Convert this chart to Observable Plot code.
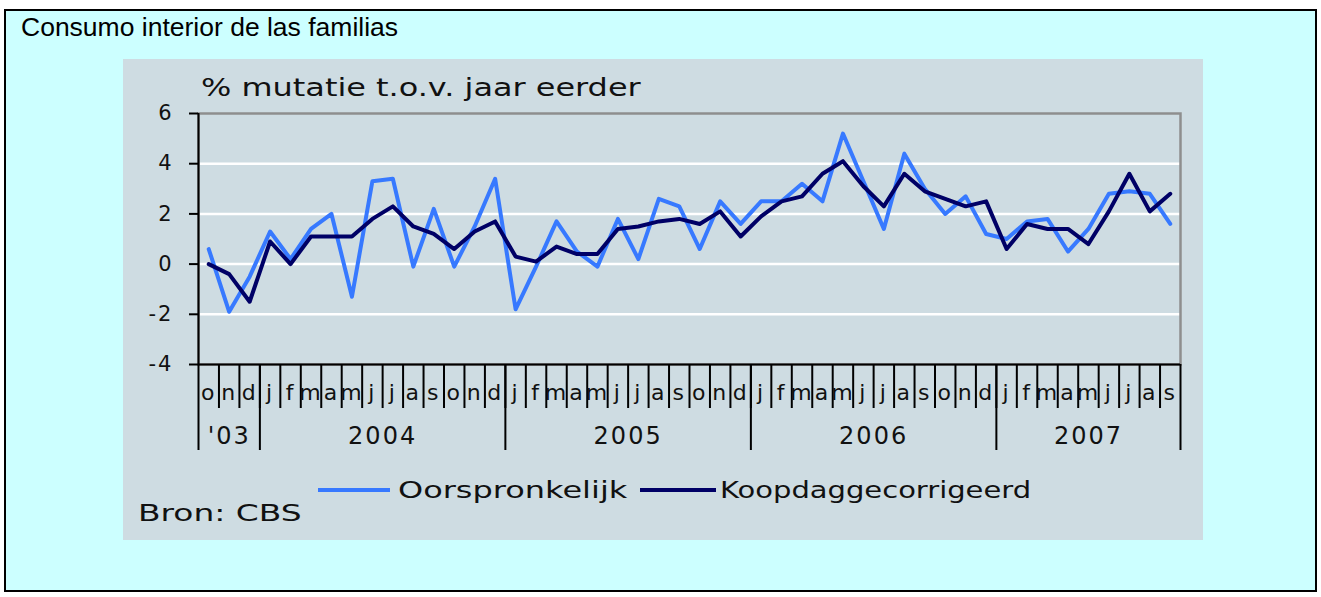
<!DOCTYPE html>
<html><head><meta charset="utf-8">
<script src="https://cdn.jsdelivr.net/npm/d3@7"></script>
<script src="https://cdn.jsdelivr.net/npm/@observablehq/plot@0.6"></script>
<style>
html,body{margin:0;padding:0;background:#fff;}
#outer{position:absolute;left:4px;top:9px;width:1313px;height:583px;box-sizing:border-box;border:2px solid #000;background:#ccffff;}
#title{position:absolute;left:21px;top:14px;font-family:"Liberation Sans",Arial,sans-serif;font-size:26.5px;line-height:26.5px;color:#000;white-space:nowrap;}
#panel{position:absolute;left:123px;top:59px;width:1080px;height:481px;background:#cedce2;}
#chart{position:absolute;left:123px;top:100px;}
.t{position:absolute;font-family:"DejaVu Sans",Verdana,sans-serif;color:#111;white-space:nowrap;transform-origin:0 0;}
.sw{position:absolute;height:4px;}
</style>
</head><body>
<div id="outer"></div>
<div id="title">Consumo interior de las familias</div>
<div id="panel"></div>
<div class="t" id="ylab" style="left:201px;top:76px;font-size:24px;line-height:24px;transform:scaleX(1.33);"></div>
<div id="chart"></div>
<div class="sw" id="sw1" style="left:318px;top:488px;width:72px;"></div>
<div class="t" id="lg1" style="left:398px;top:479px;font-size:23px;line-height:23px;transform:scaleX(1.39);"></div>
<div class="sw" id="sw2" style="left:640px;top:488px;width:76px;"></div>
<div class="t" id="lg2" style="left:720px;top:479px;font-size:23px;line-height:23px;transform:scaleX(1.26);"></div>
<div class="t" id="src" style="left:138px;top:502px;font-size:23px;line-height:23px;transform:scaleX(1.43);"></div>
<script>
const monthLabels = ["o","n","d",
  "j","f","m","a","m","j","j","a","s","o","n","d",
  "j","f","m","a","m","j","j","a","s","o","n","d",
  "j","f","m","a","m","j","j","a","s","o","n","d",
  "j","f","m","a","m","j","j","a","s"];
const yearLabels = ["'03","2004","2005","2006","2007"];
const monthsPerYear = [3,12,12,12,9];
const oorspronkelijk = [0.6,-1.9,-0.5,
  1.3,0.2,1.4,2.0,-1.3,3.3,3.4,-0.1,2.2,-0.1,1.5,3.4,
  -1.8,-0.1,1.7,0.5,-0.1,1.8,0.2,2.6,2.3,0.6,2.5,1.6,
  2.5,2.5,3.2,2.5,5.2,3.3,1.4,4.4,3.0,2.0,2.7,1.2,
  1.0,1.7,1.8,0.5,1.4,2.8,2.9,2.8,1.6];
const koopdaggecorrigeerd = [0.0,-0.4,-1.5,
  0.9,0.0,1.1,1.1,1.1,1.8,2.3,1.5,1.2,0.6,1.3,1.7,
  0.3,0.1,0.7,0.4,0.4,1.4,1.5,1.7,1.8,1.6,2.1,1.1,
  1.9,2.5,2.7,3.6,4.1,3.1,2.3,3.6,2.9,2.6,2.3,2.5,
  0.6,1.6,1.4,1.4,0.8,2.1,3.6,2.1,2.8];
const yTicks = [-4,-2,0,2,4,6];
const gridValues = [-2,0,2,4];
const seriesNames = ["Oorspronkelijk","Koopdaggecorrigeerd"];
const colors = ["#3779ff","#000066"];
const yTitle = "% mutatie t.o.v. jaar eerder";
const source = "Bron: CBS";

const rows = monthLabels.map((m, i) => ({i, m, orig: oorspronkelijk[i], koop: koopdaggecorrigeerd[i]}));
const idx = rows.map(d => d.i);
const monthBounds = idx.slice(1).map(i => i - 0.5);
const yearBounds = [-0.5];
const yearCenters = [];
let acc = 0;
monthsPerYear.forEach(n => { yearCenters.push(acc + (n - 1) / 2); acc += n; yearBounds.push(acc - 0.5); });

const chart = Plot.plot({
  width: 1080, height: 360,
  marginLeft: 75, marginRight: 23, marginTop: 13, marginBottom: 96,
  style: {background: "transparent", fontFamily: "DejaVu Sans, Verdana, sans-serif", color: "#111", overflow: "visible", letterSpacing: "2px"},
  x: {domain: [-0.5, monthLabels.length - 0.5]},
  y: {domain: [yTicks[0], yTicks[yTicks.length - 1]]},
  marks: [
    Plot.gridY(gridValues, {stroke: "#ffffff", strokeOpacity: 1, strokeWidth: 2.5}),
    Plot.frame({stroke: "#8e8e8e", strokeWidth: 2.5}),
    Plot.line(rows, {x: "i", y: "orig", stroke: colors[0], strokeWidth: 4}),
    Plot.line(rows, {x: "i", y: "koop", stroke: colors[1], strokeWidth: 4}),
    Plot.ruleY([yTicks[0]], {stroke: "#000", strokeWidth: 2}),
    Plot.ruleX([-0.5], {stroke: "#000", strokeWidth: 2}),
    Plot.axisY(yTicks, {tickSize: 9, tickPadding: 16, tickFormat: d => String(d), fontSize: 21, stroke: "#000", strokeWidth: 2, label: null}),
    Plot.axisX(monthBounds, {tickSize: 44, fill: "none", stroke: "#000", strokeWidth: 2, label: null}),
    Plot.axisX(yearBounds, {tickSize: 86, fill: "none", stroke: "#000", strokeWidth: 2, label: null}),
    Plot.axisX(idx, {tickSize: 0, tickPadding: 20, tickFormat: i => monthLabels[i], fontSize: 22, label: null}),
    Plot.axisX(yearCenters, {tickSize: 0, tickPadding: 62, tickFormat: (d, k) => yearLabels[k], fontSize: 24, label: null})
  ]
});
document.getElementById("chart").appendChild(chart);
document.getElementById("ylab").textContent = yTitle;
document.getElementById("lg1").textContent = seriesNames[0];
document.getElementById("lg2").textContent = seriesNames[1];
document.getElementById("src").textContent = source;
document.getElementById("sw1").style.background = colors[0];
document.getElementById("sw2").style.background = colors[1];
</script>
</body></html>
